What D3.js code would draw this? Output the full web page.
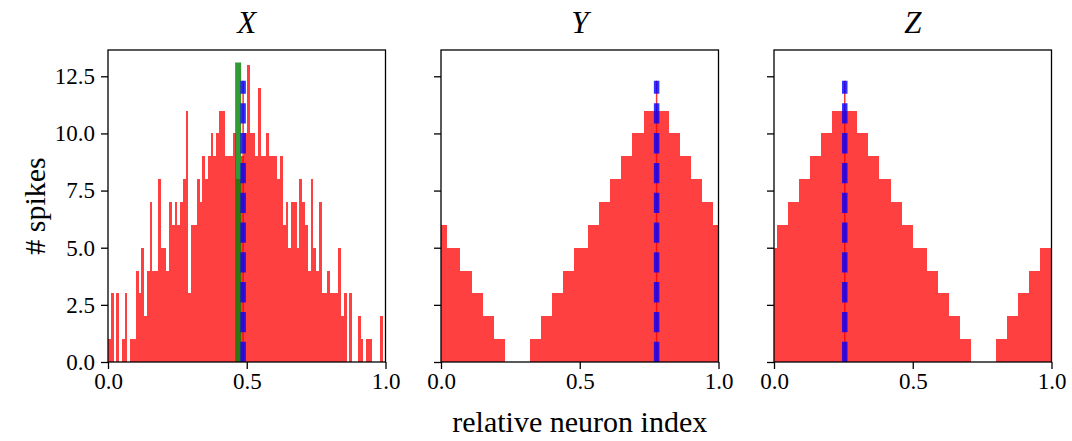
<!DOCTYPE html>
<html>
<head>
<meta charset="utf-8">
<script src="https://cdn.jsdelivr.net/npm/d3@7"></script>
<style>
    body { margin: 0; background: #fff; }
    text { font-family: "Liberation Serif", "DejaVu Serif", serif; fill: #000; }
</style>
</head>
<body>
<svg id="chart" width="1072" height="441"></svg>
<script>
// panel titles
var panelNames = ["X", "Y", "Z"];

// X: spike counts in 100 equal bins over [0, 1]
var xCounts = [1, 3, 0, 3, 0, 1, 3, 0, 1, 1,
               4, 3, 5, 2, 4, 7, 4, 4, 8, 5,
               5, 4, 7, 6, 7, 6, 7, 8, 11, 3,
               6, 6, 8, 7, 9, 8, 9, 10, 9, 10,
               11, 11, 9, 9, 9, 10, 8, 8, 9, 10,
               13, 10, 10, 9, 12, 9, 9, 10, 9, 9,
               9, 8, 9, 6, 7, 5, 7, 7, 5, 8,
               7, 6, 4, 8, 5, 4, 7, 3, 3, 4,
               3, 3, 3, 5, 2, 3, 0, 3, 0, 0,
               2, 1, 0, 1, 1, 0, 0, 0, 2, 0];

// Y and Z: bin edges and counts
var yEdges = [0, 0.02, 0.07, 0.11, 0.15, 0.19, 0.23, 0.32, 0.36, 0.40, 0.44, 0.48,
              0.53, 0.57, 0.61, 0.65, 0.69, 0.73, 0.82, 0.86, 0.90, 0.94, 0.98, 1.0];
var yCounts = [6, 5, 4, 3, 2, 1, 0, 1, 2, 3, 4, 5, 6, 7, 8, 9, 10, 11, 10, 9, 8, 7, 6];

var zEdges = [0, 0.01, 0.05, 0.09, 0.13, 0.17, 0.21, 0.30, 0.34, 0.38, 0.42, 0.46,
              0.50, 0.55, 0.59, 0.63, 0.67, 0.71, 0.80, 0.84, 0.88, 0.92, 0.96, 1.0];
var zCounts = [5, 6, 7, 8, 9, 10, 11, 10, 9, 8, 7, 6, 5, 4, 3, 2, 1, 0, 1, 2, 3, 4, 5];

// decoded position (blue dashed) per panel, and true position (green) in X
var decodedPos = [0.487, 0.777, 0.255];
var decodedTop = 12.3;
var truePos = 0.469;
var trueTop = 13.1;

var yTicks = [0, 2.5, 5, 7.5, 10, 12.5];
var xTicks = [0, 0.5, 1];

var margins = {top: 50, left: 108},
    panel_width = 277.5,
    panel_step = 333,
    height = 312,
    y_max = 13 * 1.05;

var svg = d3.select("#chart");

var yScale = d3.scaleLinear()
    .domain([0, y_max])
    .range([margins.top + height, margins.top]);

function toBins(edges, counts) {
    return counts.map(function(n, i) {
        return {x0: edges[i], x1: edges[i + 1], n: n};
    });
}

var xEdges = d3.range(xCounts.length + 1).map(function(i) { return i / xCounts.length; });

var panels = [
    toBins(xEdges, xCounts),
    toBins(yEdges, yCounts),
    toBins(zEdges, zCounts)
];

panels.forEach(function(bins, i) {
    drawPanel(bins, i);
});

function drawPanel(bins, i) {
    var left = margins.left + i * panel_step;
    var xScale = d3.scaleLinear()
        .domain([0, 1])
        .range([left, left + panel_width]);

    var g = svg.append("g").attr("class", "panel");

    g.selectAll("rect.bar")
        .data(bins.filter(function(d) { return d.n > 0; }))
        .enter()
        .append("rect")
        .attr("class", "bar")
        .attr("x", function(d) { return xScale(d.x0); })
        .attr("width", function(d) { return xScale(d.x1) - xScale(d.x0); })
        .attr("y", function(d) { return yScale(d.n); })
        .attr("height", function(d) { return yScale(0) - yScale(d.n); })
        .attr("shape-rendering", "crispEdges")
        .style("fill", "#ff0000")
        .style("fill-opacity", 0.75);

    // thin red line under the decoded marker
    g.append("line")
        .attr("x1", xScale(decodedPos[i]))
        .attr("x2", xScale(decodedPos[i]))
        .attr("y1", yScale(0))
        .attr("y2", yScale(decodedTop))
        .style("stroke", "#ff0000")
        .style("stroke-opacity", 0.8)
        .style("stroke-width", 1.5);

    if (i === 0) {
        g.append("line")
            .attr("x1", xScale(truePos))
            .attr("x2", xScale(truePos))
            .attr("y1", yScale(0))
            .attr("y2", yScale(trueTop))
            .style("stroke", "#008000")
            .style("stroke-opacity", 0.8)
            .style("stroke-width", 6);
    }

    g.append("line")
        .attr("x1", xScale(decodedPos[i]))
        .attr("x2", xScale(decodedPos[i]))
        .attr("y1", yScale(0))
        .attr("y2", yScale(decodedTop))
        .style("stroke", "#0000ff")
        .style("stroke-opacity", 0.8)
        .style("stroke-width", 5.5)
        .style("stroke-dasharray", "20.3,9.5");

    // axes
    var yAxis = d3.axisLeft(yScale)
        .tickValues(yTicks)
        .tickSize(7)
        .tickPadding(6)
        .tickFormat(i === 0 ? d3.format(".1f") : function() { return ""; });

    var xAxis = d3.axisBottom(xScale)
        .tickValues(xTicks)
        .tickSize(7)
        .tickPadding(4)
        .tickFormat(d3.format(".1f"));

    var ya = g.append("g")
        .attr("transform", "translate(" + left + ",0)")
        .call(yAxis);
    var xa = g.append("g")
        .attr("transform", "translate(0," + (margins.top + height) + ")")
        .call(xAxis);

    [ya, xa].forEach(function(a) {
        a.select(".domain").remove();
        a.selectAll("line").style("stroke", "#000").style("stroke-width", 1.3);
        a.selectAll("text")
            .style("font-size", "23px")
            .style("font-family", "'Liberation Serif', serif")
            .style("fill", "#000");
    });

    g.append("rect")
        .attr("x", left)
        .attr("y", margins.top)
        .attr("width", panel_width)
        .attr("height", height)
        .style("fill", "none")
        .style("stroke", "#000")
        .style("stroke-width", 1.3);

    g.append("text")
        .attr("x", left + panel_width / 2)
        .attr("y", 33)
        .attr("text-anchor", "middle")
        .style("font-size", "31px")
        .style("font-style", "italic")
        .text(panelNames[i]);
}

svg.append("text")
    .attr("x", margins.left + panel_step + panel_width / 2)
    .attr("y", 432)
    .attr("text-anchor", "middle")
    .style("font-size", "30px")
    .text("relative neuron index");

svg.append("text")
    .attr("transform", "translate(45," + (margins.top + height / 2) + ") rotate(-90)")
    .attr("text-anchor", "middle")
    .style("font-size", "30px")
    .text("# spikes");
</script>
</body>
</html>
